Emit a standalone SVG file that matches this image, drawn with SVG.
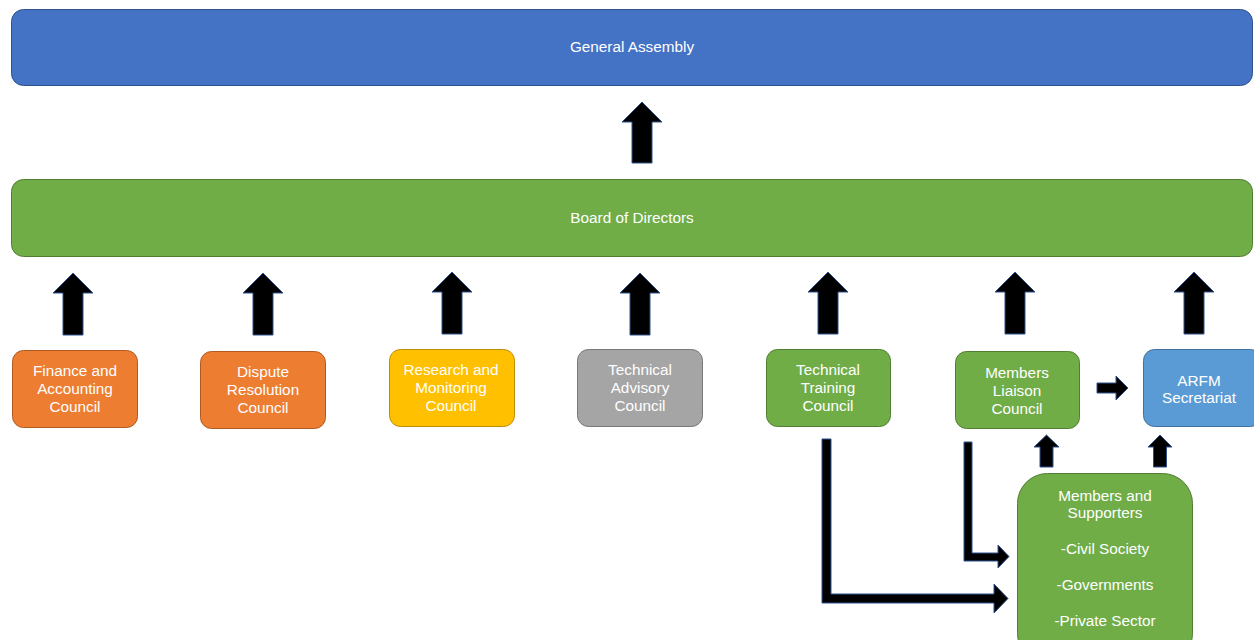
<svg xmlns="http://www.w3.org/2000/svg" width="1254" height="640" viewBox="0 0 1254 640">
<style>
text{font-family:"Liberation Sans",Arial,sans-serif;font-size:15.3px;fill:#ffffff;text-anchor:middle}
.arr{fill:#000000;stroke:#2F528F;stroke-width:1}
.blue{fill:#4472C4;stroke:#2F528F;stroke-width:1}
.green{fill:#70AD47;stroke:#507E32;stroke-width:1}
.orange{fill:#ED7D31;stroke:#AE5A21;stroke-width:1}
.yellow{fill:#FFC000;stroke:#BC8C00;stroke-width:1}
.gray{fill:#A5A5A5;stroke:#787878;stroke-width:1}
.lblue{fill:#5B9BD5;stroke:#41719C;stroke-width:1}
</style>
<rect width="1254" height="640" fill="#ffffff"/>

<g id="general-assembly">
<rect class="blue" x="11.5" y="9.5" width="1241" height="76" rx="12"/>
<text x="632" y="52">General Assembly</text>
</g>
<g id="board">
<rect class="green" x="11.5" y="179.5" width="1241" height="77" rx="12"/>
<text x="632" y="223">Board of Directors</text>
</g>
<g id="finance">
<rect class="orange" x="12.5" y="350.5" width="125" height="77" rx="11"/>
<text x="75" y="376">Finance and</text><text x="75" y="394">Accounting</text><text x="75" y="412">Council</text>
</g>
<g id="dispute">
<rect class="orange" x="200.5" y="351.5" width="125" height="77" rx="11"/>
<text x="263" y="377">Dispute</text><text x="263" y="395">Resolution</text><text x="263" y="413">Council</text>
</g>
<g id="research">
<rect class="yellow" x="389.5" y="349.5" width="125" height="77" rx="11"/>
<text x="451" y="375">Research and</text><text x="451" y="393">Monitoring</text><text x="451" y="411">Council</text>
</g>
<g id="advisory">
<rect class="gray" x="577.5" y="349.5" width="125" height="77" rx="11"/>
<text x="640" y="375">Technical</text><text x="640" y="393">Advisory</text><text x="640" y="411">Council</text>
</g>
<g id="training">
<rect class="green" x="766.5" y="349.5" width="124" height="77" rx="11"/>
<text x="828" y="375">Technical</text><text x="828" y="393">Training</text><text x="828" y="411">Council</text>
</g>
<g id="liaison">
<rect class="green" x="955.5" y="351.5" width="124" height="77" rx="11"/>
<text x="1017" y="378">Members</text><text x="1017" y="396">Liaison</text><text x="1017" y="414">Council</text>
</g>
<g id="secretariat">
<rect class="lblue" x="1143.5" y="349.5" width="118" height="77" rx="11"/>
<text x="1199" y="386">ARFM</text><text x="1199" y="403">Secretariat</text>
</g>
<g id="members-supporters">
<rect class="green" x="1017.5" y="473.5" width="175" height="190" rx="30"/>
<text x="1105" y="501">Members and</text><text x="1105" y="518">Supporters</text>
<text x="1105" y="554">-Civil Society</text>
<text x="1105" y="590">-Governments</text>
<text x="1105" y="626">-Private Sector</text>
</g>

<g id="connectors">
<path class="arr" d="M642,102 L662,122 L652,122 L652,163 L632,163 L632,122 L622,122 Z"/>
<path class="arr" d="M73,273 L93,293 L83,293 L83,335 L63,335 L63,293 L53,293 Z"/>
<path class="arr" d="M263,273 L283,293 L273,293 L273,335 L253,335 L253,293 L243,293 Z"/>
<path class="arr" d="M452,272 L472,292 L462,292 L462,334 L442,334 L442,292 L432,292 Z"/>
<path class="arr" d="M640,273 L660,293 L650,293 L650,335 L630,335 L630,293 L620,293 Z"/>
<path class="arr" d="M828,272 L848,292 L838,292 L838,334 L818,334 L818,292 L808,292 Z"/>
<path class="arr" d="M1015,272 L1035,292 L1025,292 L1025,334 L1005,334 L1005,292 L995,292 Z"/>
<path class="arr" d="M1194,272 L1214,292 L1204,292 L1204,334 L1184,334 L1184,292 L1174,292 Z"/>
<path class="arr" d="M1097,383 L1116,383 L1116,376 L1128,388 L1116,400 L1116,393 L1097,393 Z"/>
<path class="arr" d="M1046.5,435 L1059,447 L1053,447 L1053,467 L1040,467 L1040,447 L1034,447 Z"/>
<path class="arr" d="M1160,435 L1172,447 L1166.5,447 L1166.5,467 L1153.5,467 L1153.5,447 L1148,447 Z"/>
<path class="arr" d="M822,439 L831,439 L831,594 L994,594 L994,584 L1008,598.5 L994,613 L994,603 L822,603 Z"/>
<path class="arr" d="M964,442 L972,442 L972,553 L998,553 L998,545 L1009,556.5 L998,568 L998,561 L964,561 Z"/>
</g>
</svg>
